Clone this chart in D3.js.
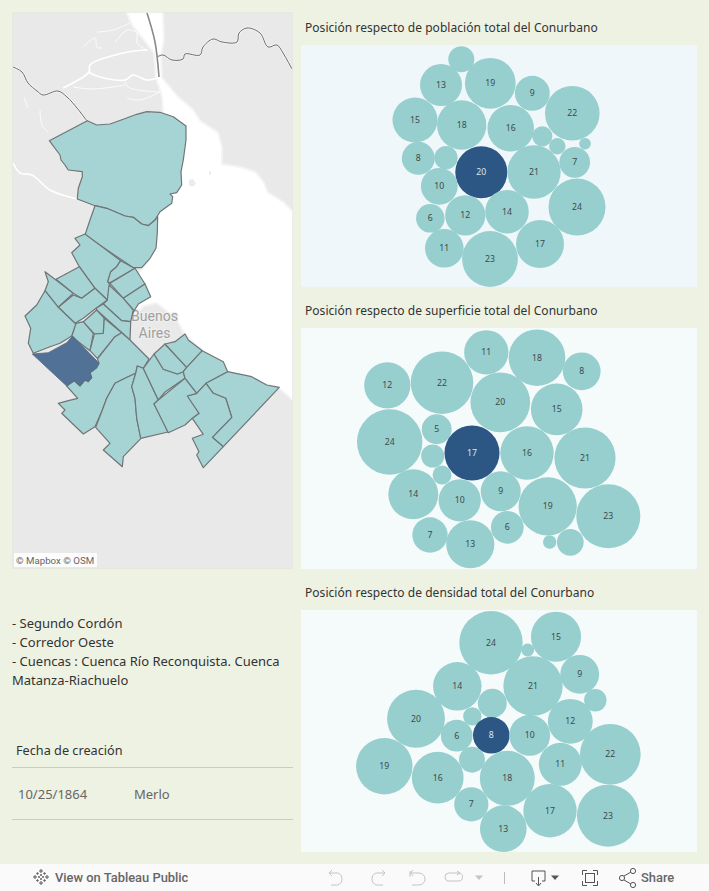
<!DOCTYPE html>
<html><head><meta charset="utf-8">
<script src="https://cdn.jsdelivr.net/npm/d3@7/dist/d3.min.js"></script>
<style>html,body{margin:0;padding:0;background:#eef2e3}svg{display:block}text{font-family:"Noto Sans",sans-serif}</style>
</head><body><svg id="c" width="709" height="891"></svg>
<script>
// ---------- bubble data: rank of each municipality (value) + layout position
const popRanks=[5,13,19,9,22,15,18,16,3,2,1,8,4,20,21,7,10,24,14,12,6,11,17,23];
const popX=[160.3,140,189.3,231.3,271.3,114,160.7,209.7,241.3,256.3,284,117.3,145,180.3,233,273.7,138.3,276,206,164.3,129.3,143.3,239,189];
const popY=[14.3,40,38.3,48.3,68.3,75,80,83.3,91.3,101.3,98.7,113.3,112.7,127.3,127,117.3,141.3,162,166.7,170.3,173.3,203.3,199,214];
const supRanks=[11,18,8,12,22,20,15,24,5,17,16,21,3,2,14,10,9,19,23,6,7,13,1,4];
const supX=[185.3,236,280.7,86.3,141,199.3,255.7,88.7,135.7,171,226,284,131.7,141,112.3,158.7,199.7,246.7,307.3,206.3,129,169.3,248.7,269.3];
const supY=[24.3,29.7,43.3,57.3,54.7,74.3,81.3,114,101.3,125,125,130,128,147,166.3,172.3,163.3,178.3,188.3,199.3,207,216.3,214,214.3];
const denRanks=[24,15,1,9,21,14,5,3,2,20,12,6,8,10,22,4,11,19,16,18,7,17,23,13];
const denX=[190,255,226.7,278.7,232,156.3,191.3,294.3,171.3,115,269.3,155.7,190.3,228.7,309.3,171,259.3,83.3,136.7,206.3,170.3,249,307,202.3];
const denY=[32.7,26.7,40,64.3,76,76.3,93.3,90.3,106.3,108.7,111.3,125.7,125.3,125.3,144.3,149.7,154.3,156.3,167.7,168.3,194.3,200.7,205.7,218.7];
const selectedRanks=[20,17,8];
const panelTitles=["Posición respecto de población total del Conurbano","Posición respecto de superficie total del Conurbano","Posición respecto de densidad total del Conurbano"];
const notes=["- Segundo Cordón","- Corredor Oeste","- Cuencas : Cuenca Río Reconquista. Cuenca","Matanza-Riachuelo"];
const tableHeader="Fecha de creación", tableDate="10/25/1864", tableName="Merlo";

// ---------- map geometry (planar map units)
const partidos=[
[[87.3,120.7],[96.7,125],[110,124],[123.3,119.3],[136.7,114.3],[146.7,111.7],[160,112.3],[173.3,116.7],[186,126],[186,140],[183.3,160],[181,171.7],[181.7,185],[176.7,192.7],[170,194],[172.7,196.7],[171.7,203.3],[160,211.7],[155,220],[148.3,225.7],[141.7,224],[133.3,217.3],[125,216],[106.7,208.3],[95,205.7],[77.3,199],[78.3,188.3],[82.3,176.7],[82.3,171.7],[68.3,170],[65,165],[61,160],[60,155],[49.3,140.7]],
[[95,205.7],[106.7,208.3],[125,216],[133.3,217.3],[141.7,224],[148.3,225.7],[155,220],[157.7,216.7],[157.3,233.3],[156,248.3],[150,258.3],[141.7,267.7],[133.3,267.7],[120.7,259.3],[85,235],[90,220]],
[[85,234],[120.7,260.7],[116.7,266.7],[110.7,271.7],[107.7,281.7],[110,285],[107.3,300],[95,288.3],[79.3,266.7],[71.7,252.7],[80,245],[75,238.3]],
[[120.7,260.7],[133.3,267.7],[135,268.3],[110,282.7],[107.7,281.7],[110.7,271.7],[116.7,266.7]],
[[135,268.3],[145,284],[123.3,298.3],[110,283.3]],
[[145,284],[150.7,296.7],[138.3,304],[132.7,313.3],[133.3,310],[123.3,298.3]],
[[109,285],[123.3,298.3],[133.3,310],[130.7,321.7],[121.7,320.7],[103.3,304],[107.3,300]],
[[103.3,304],[121.7,320.7],[130.7,321.7],[130,340],[96.7,310],[96,308.3]],
[[45,271.7],[56,280],[73.3,293.3],[58.3,307.3],[45,290.7],[48.3,281.7]],
[[56,279.3],[79.3,266.7],[95,288.3],[81.7,298.3],[73.3,293.3]],
[[73.3,295],[81.7,298.3],[95,288.3],[107.3,300],[96,308.3],[83.3,318.3],[75,323.3],[58.3,307.3]],
[[45,290.7],[58.3,307.3],[75,323.3],[76,325],[71.7,336],[60,343.3],[50,346.7],[33.3,353.3],[28.3,343.3],[30.7,328.3],[25,316],[36.7,305]],
[[76,323.3],[83.3,321.7],[93.3,333.3],[90,350.7],[71.7,336.7]],
[[83.3,321.7],[96.7,310],[104.3,318.3],[103.3,333.3],[94.3,334]],
[[104.3,318.3],[121.7,332.7],[115,336.7],[97.3,358.3],[90,350.7],[94.3,334],[103.3,333.3]],
[[66.7,386],[74.3,380.7],[80,386],[85,380],[88.3,381.7],[91.7,377.7],[90,372.7],[96.7,367.7],[99,363.3],[97.5,359],[115,336.7],[121.7,332.7],[130,340],[149,359],[143.3,368.3],[137.3,366],[135.7,373.3],[125,378.3],[115,383.3],[106.7,398.3],[101.7,411.7],[95,426.7],[83.3,434],[61.7,413.3],[65,410],[58.3,403.3],[68.3,400.7],[77.7,398.3]],
[[115,383.3],[125,378.3],[135.7,373.3],[131.7,386.7],[135,398.3],[136.7,418.3],[141,438.3],[123.3,456.7],[122.3,466.7],[103.3,450],[110,443.3],[95.7,427.3],[101.7,411.7],[106.7,398.3]],
[[137.3,366],[143.3,368.3],[158.3,400],[154,404],[163.3,421.7],[168,432],[140.7,438.3],[136.7,418.3],[135,398.3],[131.7,386.7],[135.7,373.3]],
[[154,354],[163.3,369.3],[177.3,374],[183.3,371.7],[185,378.3],[165,392],[158.3,400],[143.3,368.3]],
[[154,354],[165,344],[186.7,367.3],[183.3,371.7],[177.3,374],[163.3,369.3]],
[[165,344],[175,341.7],[185,334],[188.3,340],[202.3,350.7],[186.7,367.3]],
[[202.3,350.7],[223.3,361.7],[227.7,371.7],[206,383.3],[196.7,393.3],[185,378.3],[183.3,371.7],[186.7,367.3]],
[[227.7,371.7],[251.7,376.7],[266.7,385],[279.3,387.3],[223.3,446.7],[212.3,437.3],[231.7,417.3],[225.7,398.3],[213.3,393.3],[206,383.3]],
[[206,383.3],[213.3,393.3],[225.7,398.3],[231.7,417.3],[212.3,437.3],[223.3,446.7],[203.3,467.7],[196.7,455],[199,451.7],[192.3,438.3],[203.3,434.3],[192.3,418.3],[199,413.3],[193.3,407.3],[187.3,396],[196.7,393.3]],
[[158.3,400],[185,378.3],[196.7,393.3],[187.3,396],[199,413.3],[192.3,418.3],[185,425],[168.3,432.7],[154,404]]
];
const merlo=[[72.7,336],[97.7,361.7],[99,363.3],[96.7,367.7],[90,372.7],[91.7,377.7],[88.3,381.7],[85,380],[80,386],[74.3,380.7],[66.7,386],[32.3,354],[48.3,352.7],[66.7,342.7]];
const water=[[128,13],[162,13],[163,40],[160,55],[161,78],[177,97],[192,110],[200,122],[217,133],[221,147],[221,165],[240,168],[255,173],[263,183],[267,193],[283,203],[292,212],[292,398],[279,387],[227,372],[185,333],[178,320],[167,310],[157,302],[143,305],[135,315],[135,280],[150,260],[160,200],[165,130],[163,97],[160,87],[157,78],[155,53],[143,37],[133,25]];
const islands=[[[189,180],[193,179],[196,184],[192,187],[189,185]],[[209,171],[211,172],[211,175],[209,175]]];
const riversWide=[[[148,50],[128,52],[90,65],[89,72],[63,88]],[[88,72],[100,77],[125,80],[133,75],[147,80],[158,78]],[[13,163],[20,173],[32,175],[50,190],[77,199]]];
const riversThin=[[[125,80],[128,87],[160,92]],[[73,87],[93,89],[125,85]],[[127,98],[140,100],[160,92]],[[97,32],[113,30],[130,23]],[[83,47],[95,38],[97,47],[103,48]],[[115,43],[127,30],[137,33],[137,43],[147,50]],[[40,110],[42,125],[48,132]],[[24,97],[28,108]]];
const borderLines=[[[13,67],[22,72],[28,83],[37,91],[43,95],[58,91],[67,97],[77,108],[87,121]],[[157,57],[163,55],[172,60],[183,59],[185,54],[200,55],[203,47],[213,39],[222,42],[237,42],[239,33],[247,28],[260,33],[268,47],[277,45],[283,53],[292,69]]];
const channelLine=[[147,13],[155,42],[159,77]];

const svg=d3.select("#c");
const W=709,H=891;
const asRing=r=>({type:"Polygon",coordinates:[r.concat([r[0]])]});
const path=d3.geoPath(d3.geoIdentity());
const line=d3.line().curve(d3.curveCatmullRom.alpha(.5));

svg.append("rect").attr("width",W).attr("height",H).attr("fill","#eef2e3");

// ---------- map
const defs=svg.append("defs");
defs.append("clipPath").attr("id","mc").append("rect").attr("x",12.5).attr("y",12.5).attr("width",280).attr("height",556);
svg.append("rect").attr("x",12.5).attr("y",12.5).attr("width",280).attr("height",556).attr("fill","#e9e9e9").attr("stroke","#e6e8e0");
const m=svg.append("g").attr("clip-path","url(#mc)");
m.append("path").datum(asRing(water)).attr("d",path).attr("fill","#fff").attr("stroke","#f4f4f4").attr("stroke-width",4).attr("stroke-linejoin","round");
m.append("path").datum(asRing(water)).attr("d",path).attr("fill","#fff");
m.selectAll("path.isl").data(islands).join("path").attr("class","isl").attr("d",r=>path(asRing(r))).attr("fill","#ececec");
m.selectAll("path.rw").data(riversWide).join("path").attr("class","rw").attr("d",line).attr("fill","none").attr("stroke","#fff").attr("stroke-width",1.7);
m.selectAll("path.rt").data(riversThin).join("path").attr("class","rt").attr("d",line).attr("fill","none").attr("stroke","#fff").attr("stroke-width",.8);
m.selectAll("path.bl").data(borderLines).join("path").attr("class","bl").attr("d",line).attr("fill","none").attr("stroke","#f3f3f3").attr("stroke-width",2.6);
m.selectAll("path.bl2").data(borderLines).join("path").attr("class","bl2").attr("d",line).attr("fill","none").attr("stroke","#6c6c6c").attr("stroke-width",1);
m.append("path").datum(channelLine).attr("d",line).attr("fill","none").attr("stroke","#8a8a8a").attr("stroke-width",1.6);
m.selectAll("text.city").data(["Buenos","Aires"]).join("text").attr("class","city")
 .attr("x",154.5).attr("y",(d,i)=>321+i*17).attr("text-anchor","middle").attr("font-size",14)
 .style("font-family","Roboto").attr("fill","#a0a0a0").attr("stroke","#efefef").attr("stroke-width",2.5).attr("paint-order","stroke").text(d=>d);
m.selectAll("path.p").data(partidos).join("path").attr("class","p").attr("d",r=>path(asRing(r)))
 .attr("fill","#a6d3d4").attr("stroke","#707576").attr("stroke-width",1.2).attr("stroke-linejoin","round");
m.append("path").datum(asRing(merlo)).attr("d",path).attr("fill","#527196").attr("stroke","#5a6a78").attr("stroke-width",.8);
const att=svg.append("g");
att.append("rect").attr("x",14).attr("y",553).attr("width",83).attr("height",14).attr("fill","#fff").attr("opacity",.85);
att.append("text").attr("x",16).attr("y",564).attr("font-size",9.7).attr("fill","#666").style("font-family","Roboto").text("© Mapbox  © OSM");

// ---------- bubble panels
const panels=[
 {title:panelTitles[0],ranks:popRanks,xs:popX,ys:popY,y0:45,y1:287,maxR:28.5,bg:"#eff7fa",ty:32,sel:selectedRanks[0],minLabel:6},
 {title:panelTitles[1],ranks:supRanks,xs:supX,ys:supY,y0:328,y1:569,maxR:32.7,bg:"#f5fafb",ty:315,sel:selectedRanks[1],minLabel:5},
 {title:panelTitles[2],ranks:denRanks,xs:denX,ys:denY,y0:610,y1:852,maxR:31.7,bg:"#f5fafb",ty:597,sel:selectedRanks[2],minLabel:6}
];
const px0=301,px1=697;
panels.forEach(p=>{
 svg.append("text").attr("x",305).attr("y",p.ty).attr("font-size",12).attr("letter-spacing",.05).attr("fill","#333").text(p.title);
 svg.append("rect").attr("x",px0).attr("y",p.y0).attr("width",px1-px0).attr("height",p.y1-p.y0).attr("fill",p.bg);
 const x=d3.scaleLinear().domain([0,px1-px0]).range([px0,px1]);
 const y=d3.scaleLinear().domain([0,p.y1-p.y0]).range([p.y0,p.y1]);
 const r=d3.scaleSqrt().domain([0,24]).range([0,p.maxR]);
 const rows=p.ranks.map((v,i)=>({v,x:p.xs[i],y:p.ys[i]}));
 const g=svg.append("g");
 g.selectAll("circle").data(rows).join("circle").attr("cx",d=>x(d.x)).attr("cy",d=>y(d.y)).attr("r",d=>r(d.v))
  .attr("fill",d=>d.v===p.sel?"#2c5784":"#96cfce");
 g.selectAll("text").data(rows.filter(d=>d.v>=p.minLabel)).join("text")
  .attr("x",d=>x(d.x)).attr("y",d=>y(d.y)+3).attr("text-anchor","middle").attr("font-size",8.7)
  .attr("fill",d=>d.v===p.sel?"#dfe6ee":"#3c4a4c").text(d=>d.v);
});

// ---------- text block
svg.append("g").selectAll("text").data(notes).join("text").attr("x",12).attr("y",(d,i)=>627.5+i*19)
 .attr("font-size",13).attr("fill","#333").text(d=>d);
svg.append("text").attr("x",16).attr("y",755).attr("font-size",12.7).attr("fill","#333").text(tableHeader);
svg.append("text").attr("x",18).attr("y",799).attr("font-size",13).attr("fill","#666").text(tableDate);
svg.append("text").attr("x",134).attr("y",799).attr("font-size",13).attr("fill","#666").text(tableName);
[767.5,819.5].forEach(yy=>svg.append("line").attr("x1",12).attr("x2",293).attr("y1",yy).attr("y2",yy).attr("stroke","#c9cbc4"));

// ---------- footer
svg.append("rect").attr("x",0).attr("y",864).attr("width",W).attr("height",27).attr("fill","#fafafa");
const f=svg.append("g");
const logo=f.append("g").attr("transform","translate(41,877)").attr("stroke","#666").attr("stroke-width",1.1);
[[0,-6,4],[0,6,4],[-6,0,4],[6,0,4],[-3.5,-3.5,2.5],[3.5,-3.5,2.5],[-3.5,3.5,2.5],[3.5,3.5,2.5],[0,-2,2],[0,2,2],[-2,0,2],[2,0,2]].forEach(([a,b,s])=>{
 logo.append("line").attr("x1",a-s/2).attr("x2",a+s/2).attr("y1",b).attr("y2",b);
 logo.append("line").attr("x1",a).attr("x2",a).attr("y1",b-s/2).attr("y2",b+s/2);
});
f.append("text").attr("x",55).attr("y",882).attr("font-size",12.9).attr("font-weight",500).style("font-family","Roboto").attr("fill","#666").text("View on Tableau Public");
f.append("text").attr("x",641).attr("y",882).attr("font-size",12.9).attr("font-weight",500).style("font-family","Roboto").attr("fill","#666").text("Share");
const ic=(d,c,w)=>f.append("path").attr("d",d).attr("fill","none").attr("stroke",c).attr("stroke-width",w||1);
const lg="#c4c4c4",dk="#555";
ic("M329,873H338A6.5,6.5 0 0 1 338,885H331",lg); ic("M332,870L329,873L332,876",lg);
ic("M385,873H376A6.5,6.5 0 0 0 376,885H383",lg); ic("M382,870L385,873L382,876",lg);
ic("M410,871V877M410,873H419A6,6 0 0 1 419,885H412",lg); ic("M413,870L410.5,873L413,876",lg);
ic("M459,873H449A3.5,3.5 0 0 0 449,881H458A3.5,3.5 0 0 0 459,873",lg); ic("M457,871L460,873L457,875",lg);
f.append("path").attr("d","M475,875.5H483L479,880Z").attr("fill",lg);
ic("M504.5,872V884","#bbb");
ic("M535,881H532V871H545V881H542",dk); ic("M538.5,877V885M536,883L538.5,886L541,883",dk);
f.append("path").attr("d","M551,875.5H559L555,880Z").attr("fill",dk);
ic("M582.5,875V870.5H587M593,870.5H597.5V875M597.5,881V885.5H593M587,885.5H582.5V881",dk); f.append("rect").attr("x",585.5).attr("y",873.5).attr("width",9).attr("height",9).attr("fill","none").attr("stroke",dk);
ic("M624,876L631,872M624,880L631,884",dk);
[[622,878],[633,871],[633,885]].forEach(([a,b])=>f.append("circle").attr("cx",a).attr("cy",b).attr("r",2.6).attr("fill","#fafafa").attr("stroke",dk));
</script></body></html>
